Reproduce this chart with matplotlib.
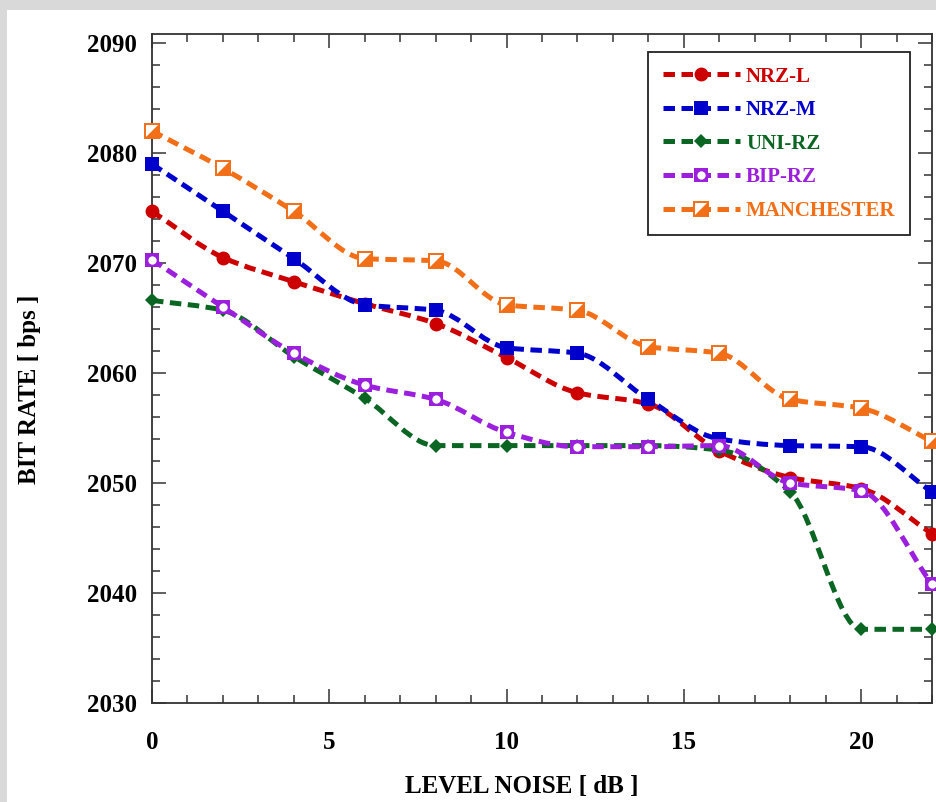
import numpy as np
import matplotlib
matplotlib.use("Agg")
import matplotlib.pyplot as plt
from matplotlib.path import Path
from matplotlib.patches import PathPatch, Rectangle
from matplotlib.lines import Line2D
from matplotlib.legend_handler import HandlerTuple
from matplotlib.ticker import MultipleLocator

# noise level in dB and measured bit rate (bps) per line code
noise = [0, 2, 4, 6, 8, 10, 12, 14, 16, 18, 20, 22]
nrz_l = [2074.7, 2070.5, 2068.3, 2066.3, 2064.5, 2061.4, 2058.2, 2057.2, 2052.9, 2050.5, 2049.5, 2045.4]
nrz_m = [2079.0, 2074.7, 2070.4, 2066.2, 2065.7, 2062.3, 2061.8, 2057.6, 2054.0, 2053.4, 2053.3, 2049.2]
uni_rz = [2066.6, 2065.7, 2061.5, 2057.7, 2053.4, 2053.4, 2053.4, 2053.4, 2053.0, 2049.2, 2036.7, 2036.7]
bip_rz = [2070.3, 2066.0, 2061.8, 2058.9, 2057.6, 2054.6, 2053.3, 2053.3, 2053.4, 2050.0, 2049.3, 2040.8]
manchester = [2082.0, 2078.6, 2074.7, 2070.4, 2070.2, 2066.2, 2065.7, 2062.4, 2061.8, 2057.6, 2056.8, 2053.8]

names = ["NRZ-L", "NRZ-M", "UNI-RZ", "BIP-RZ", "MANCHESTER"]
colors = ["#cc0000", "#0000cc", "#0b6623", "#9b1fdc", "#f26e17"]

plt.rcParams['font.family'] = ['Liberation Serif', 'DejaVu Serif']
plt.rcParams['font.weight'] = 'bold'

LW = 3.6
DASH = (0, (2.3, 1.3))


def smooth_path(x, y):
    # monotone cubic tangents -> bezier segments drawn by matplotlib
    x = np.asarray(x, float)
    y = np.asarray(y, float)
    h = np.diff(x)
    d = np.diff(y) / h
    m = np.zeros_like(y)
    m[0] = d[0]
    m[-1] = d[-1]
    for k in range(1, len(y) - 1):
        if d[k - 1] * d[k] > 0:
            w1 = 2 * h[k] + h[k - 1]
            w2 = h[k] + 2 * h[k - 1]
            m[k] = (w1 + w2) / (w1 / d[k - 1] + w2 / d[k])
    verts = [(x[0], y[0])]
    codes = [Path.MOVETO]
    for k in range(len(x) - 1):
        verts += [(x[k] + h[k] / 3, y[k] + m[k] * h[k] / 3),
                  (x[k + 1] - h[k] / 3, y[k + 1] - m[k + 1] * h[k] / 3),
                  (x[k + 1], y[k + 1])]
        codes += [Path.CURVE4] * 3
    return Path(verts, codes)


fig = plt.figure(figsize=(9.36, 8.02), dpi=100)
fig.patch.set_facecolor("#d9d9d9")
fig.patches.append(Rectangle((7 / 936, 0), 1, 1 - 10 / 802, transform=fig.transFigure,
                             facecolor="white", edgecolor="none", zorder=-10))
ax = fig.add_axes([152 / 936, 1 - 703 / 802, 780 / 936, 669 / 802])
ax.set_facecolor("none")

series = [nrz_l, nrz_m, uni_rz, bip_rz, manchester]
handles = []
for i, (vals, c) in enumerate(zip(series, colors)):
    z = 3 + i
    patch = PathPatch(smooth_path(noise, vals), facecolor="none", edgecolor=c, lw=LW,
                      linestyle=DASH, capstyle="butt", zorder=z)
    ax.add_patch(patch)
    proxy = Line2D([], [], color=c, lw=LW, linestyle=DASH, dash_capstyle="butt")
    if i == 0:
        mk = ax.plot(noise, vals, "o", color=c, ms=10, mew=0, clip_on=False, zorder=z)
        handles.append((proxy, mk[0]))
    elif i == 1:
        mk = ax.plot(noise, vals, "s", color=c, ms=10, mew=0, clip_on=False, zorder=z)
        handles.append((proxy, mk[0]))
    elif i == 2:
        mk = ax.plot(noise, vals, "D", color=c, ms=7.5, mew=0, clip_on=False, zorder=z)
        handles.append((proxy, mk[0]))
    elif i == 3:
        sq = ax.plot(noise, vals, "s", color=c, ms=10, mew=0, clip_on=False, zorder=z)
        ci = ax.plot(noise, vals, "o", color="white", ms=6, mew=0, clip_on=False, zorder=z)
        handles.append((proxy, sq[0], ci[0]))
    else:
        sq = ax.plot(noise, vals, "s", mfc="white", mec=c, ms=9.5, mew=1.4, clip_on=False, zorder=z)
        tri = ax.plot(noise, vals, marker=[(-1, -1), (1, -1), (1, 1)], ls="none", color=c,
                      ms=9.5, mew=0, clip_on=False, zorder=z)
        handles.append((proxy, sq[0], tri[0]))

ax.set_xlim(0, 22)
ax.set_ylim(2030, 2030 + 669 / 11)
ax.set_yticks(np.arange(2030, 2091, 10))
ax.xaxis.set_major_locator(MultipleLocator(5))
ax.xaxis.set_minor_locator(MultipleLocator(1))
ax.yaxis.set_minor_locator(MultipleLocator(2))
ax.tick_params(which="both", direction="in", top=True, right=True, width=1.1, color="#333333")
ax.tick_params(which="major", length=10)
ax.tick_params(which="minor", length=6)
ax.tick_params(axis="x", which="major", pad=20, labelsize=18)
ax.tick_params(axis="y", which="major", pad=11, labelsize=18)
for lab in ax.get_xticklabels() + ax.get_yticklabels():
    lab.set_fontweight("bold")
for s in ax.spines.values():
    s.set_linewidth(1.3)
    s.set_color("#333333")

ax.set_xlabel("LEVEL NOISE [ dB ]", fontsize=18, fontweight="bold")
ax.set_ylabel("BIT RATE [ bps ]", fontsize=18, fontweight="bold")
ax.xaxis.set_label_coords(0.474, -0.107)
ax.yaxis.set_label_coords(-0.142, 0.469)

leg = ax.legend(handles, names, handler_map={tuple: HandlerTuple(ndivide=1, pad=0)},
                loc="upper right", bbox_to_anchor=(0.972, 0.973), borderaxespad=0,
                fontsize=15, numpoints=1, handlelength=3.7, handletextpad=0.3,
                labelspacing=0.65, borderpad=0.7, fancybox=False, framealpha=1,
                edgecolor="#222222")
leg.get_frame().set_linewidth(1.3)
leg.set_zorder(20)
for t, c in zip(leg.get_texts(), colors):
    t.set_color(c)
    t.set_fontweight("bold")

fig.savefig("out.png", dpi=100, facecolor=fig.get_facecolor())
